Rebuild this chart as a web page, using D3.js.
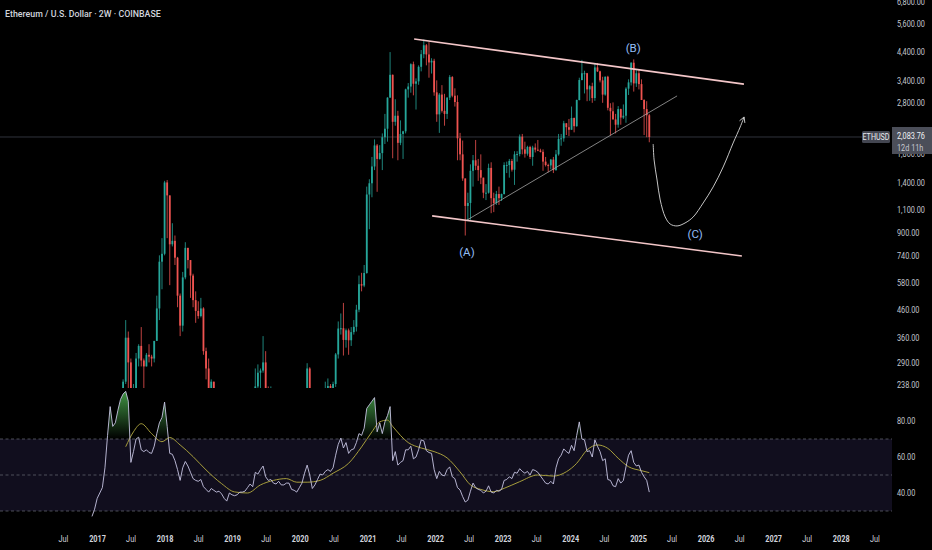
<!DOCTYPE html>
<html>
<head>
<meta charset="utf-8">
<script src="https://cdn.jsdelivr.net/npm/d3@7"></script>
<style>
  html, body { margin: 0; background: #000; }
  svg { display: block; }
  text { font-family: Roboto, "Noto Sans", sans-serif; }
</style>
</head>
<body>
<svg id="chart" width="932" height="550"></svg>
<script>
// ---- data: ETH/USD, 2-week bars from Coinbase ----
const firstBar = '2016-12-05';   // Monday open of bar 0
const firstOpen = 8.1;           // every later bar opens at the previous close

const closes = [
  7.9, 8.2, 9.9, 10.6, 11.3, 13.1, 28.5, 42, 44,
  48, 90, 155, 245, 360, 290, 160, 196, 300, 335,
  295, 280, 310, 305, 300, 350, 465, 700, 750, 1400,
  1250, 815, 840, 725, 520, 400, 610, 790, 710, 620,
  500, 455, 435, 465, 320, 275, 196, 245, 225, 205,
  210, 175, 115, 85, 135, 118, 115, 120, 137, 135,
  137, 178, 171, 162, 235, 265, 270, 290, 230, 205,
  215, 190, 180, 215, 175, 173, 183, 183, 150, 142,
  128, 146, 161, 223, 275, 200, 123, 143, 172, 210,
  207, 231, 236, 226, 240, 311, 390, 391, 353, 384,
  352, 378, 396, 460, 575, 568, 634, 1260, 1390, 1610,
  1935, 1720, 1810, 2080, 2240, 2940, 3590, 2380, 2510, 1980,
  2140, 2190, 3160, 3240, 3940, 3320, 3390, 3850, 4300, 4650,
  4290, 4000, 4060, 3080, 2540, 3020, 2620, 2550, 2940, 3520,
  2990, 2830, 2060, 1790, 1450, 1140, 1170, 1550, 1700, 1620,
  1560, 1460, 1280, 1280, 1590, 1220, 1170, 1265, 1220, 1265,
  1630, 1630, 1690, 1565, 1790, 1795, 2090, 1870, 1800, 1910,
  1750, 1900, 1865, 1850, 1830, 1680, 1630, 1625, 1710, 1560,
  1790, 2050, 2060, 2350, 2270, 2220, 2460, 2290, 2880, 3430,
  3640, 3640, 3160, 3250, 2930, 3830, 3700, 3420, 3020, 3530,
  2690, 2610, 2430, 2320, 2660, 2470, 2510, 3180, 3360, 3990,
  3330, 3640, 3310, 2880, 2660, 2520, 2083.76
];
const highs = [
  8.5, 8.5, 11.5, 11.2, 11.6, 13.5, 29.5, 52, 53,
  50, 97, 160, 250, 420, 380, 300, 240, 315, 340,
  395, 300, 315, 340, 310, 350, 520, 740, 860, 1420,
  1430, 1250, 980, 880, 730, 530, 640, 830, 790, 710,
  630, 540, 495, 510, 470, 330, 300, 250, 245, 230,
  220, 225, 177, 120, 160, 160, 130, 125, 165, 140,
  142, 185, 185, 175, 275, 285, 275, 365, 320, 235,
  235, 215, 190, 225, 215, 195, 195, 195, 185, 152,
  145, 148, 175, 230, 288, 278, 205, 150, 175, 227,
  215, 245, 252, 240, 245, 315, 415, 445, 488, 390,
  390, 395, 420, 480, 620, 635, 680, 1350, 1440, 1750,
  2040, 1960, 1940, 2150, 2550, 2950, 4380, 3600, 2900, 2620,
  2410, 2200, 3180, 3340, 3970, 4030, 3480, 3900, 4460, 4890,
  4700, 4780, 4150, 4130, 3420, 3060, 3280, 3040, 2950, 3580,
  3550, 3190, 3000, 2160, 2020, 1450, 1280, 1640, 1780, 2030,
  1720, 1790, 1460, 1380, 1650, 1670, 1280, 1300, 1350, 1270,
  1670, 1680, 1720, 1720, 1840, 1840, 2130, 2140, 2000, 1930,
  1930, 1930, 1970, 2030, 1880, 1870, 1750, 1650, 1720, 1750,
  1860, 2140, 2140, 2400, 2350, 2440, 2720, 2470, 2890, 3500,
  4090, 3720, 3650, 3280, 3350, 3980, 3980, 3720, 3530, 3540,
  3560, 2800, 2820, 2550, 2730, 2670, 2770, 3220, 3450, 4010,
  4110, 3740, 3750, 3450, 2900, 2850, 2550
];
const lows = [
  6.0, 7.1, 8.0, 9.5, 10.3, 11.2, 13.0, 27, 41,
  42, 47, 83, 150, 240, 230, 130, 150, 195, 280,
  280, 195, 280, 290, 280, 290, 350, 420, 550, 740,
  860, 570, 800, 680, 470, 365, 380, 600, 660, 510,
  470, 410, 425, 430, 310, 250, 195, 168, 210, 190,
  193, 170, 100, 82, 84, 115, 112, 100, 118, 125,
  130, 130, 155, 150, 160, 225, 225, 265, 225, 195,
  205, 175, 165, 175, 155, 168, 160, 180, 138, 140,
  117, 126, 143, 160, 220, 200, 90, 120, 140, 170,
  180, 195, 225, 220, 222, 234, 300, 370, 308, 330,
  310, 335, 370, 380, 450, 540, 560, 630, 930, 1230,
  1560, 1290, 1710, 1560, 1960, 2000, 2940, 1730, 2300, 1700,
  1940, 1720, 2150, 2940, 3070, 3000, 2650, 3290, 3700, 4150,
  3900, 3500, 3630, 2990, 2380, 2160, 2580, 2300, 2440, 2880,
  2950, 2720, 1700, 1700, 1420, 880, 1000, 1010, 1350, 1560,
  1420, 1380, 1220, 1200, 1270, 1070, 1080, 1150, 1150, 1190,
  1260, 1520, 1460, 1540, 1370, 1680, 1760, 1790, 1740, 1770,
  1720, 1620, 1820, 1840, 1820, 1550, 1610, 1530, 1570, 1520,
  1550, 1770, 1930, 2000, 2120, 2100, 2220, 2170, 2280, 2870,
  3420, 3050, 2850, 2860, 2810, 2860, 3680, 3360, 2810, 2990,
  2630, 2110, 2430, 2150, 2260, 2320, 2440, 2360, 3010, 3270,
  3100, 3230, 3160, 2880, 2120, 2080, 1990
];

// RSI(14) per bar, and its moving average as [bar index, value] read points
const rsi = [
  27, 31, 37, 40, 43, 54, 72, 88, 77, 79,
  86, 92, 95, 96.5, 91, 57, 63, 70, 71, 64,
  63, 64, 62.5, 62, 66, 73, 79, 82, 90.5, 77,
  62, 61.5, 58, 53, 47, 54, 57.5, 55, 51.5, 48,
  47, 46.5, 47.5, 43.5, 42, 40.5, 42.5, 41.5, 40.5, 41,
  39.5, 37, 35.5, 40, 39, 38.5, 39, 40.5, 40.5, 41,
  43, 45, 43.5, 51.5, 50.5, 53, 55, 49, 47, 47.5,
  45.5, 45, 46.5, 44.5, 44.5, 45.5, 45.5, 42, 41.5, 40.5,
  43, 45.5, 51, 55.5, 50, 42.5, 44.5, 47.5, 50.5, 50,
  52, 53, 52, 54, 61, 67, 70.5, 65, 68, 62,
  64, 64.5, 68, 73, 72, 76, 87, 89, 91, 93,
  74, 79, 73, 79.5, 83, 88, 58, 63, 55.5, 57,
  58, 64, 64, 66, 59, 60, 64, 69.5, 69, 63.5,
  62.5, 62, 53, 48, 52, 50, 49.5, 53, 54.5, 49,
  48, 43, 41.7, 38, 35, 36, 41, 45.5, 43, 42,
  41.5, 40, 41, 44, 40.5, 40, 41.5, 41, 42, 47,
  47.5, 49, 48, 51.5, 51, 53.5, 52, 51, 52, 50,
  53, 52.5, 51.5, 49.5, 47.5, 45.5, 45, 46.5, 45, 54,
  59, 61, 64.5, 63, 62, 66.5, 63.5, 72, 79.5, 70,
  69.5, 63, 63.5, 60, 69.5, 66, 63, 58, 59, 47.5,
  47, 44, 43.5, 48, 45.5, 47, 54.5, 61, 63.5, 57,
  55, 55.5, 51.5, 49, 47, 40.5
];
const rsiMa = [
  [13, 65.7], [16, 74], [19, 78.5], [23, 73], [27, 68.5], [30, 70.8], [34, 66.7],
  [39, 60.2], [44, 52.8], [50, 45.2], [55, 40.6], [60, 40], [65, 44.5], [70, 47],
  [75, 48], [79, 46], [83, 46], [88, 47], [93, 51], [99, 56.5], [104, 65.6],
  [108, 74], [111, 79.5], [114, 80.5], [116, 77], [122, 68], [127, 65], [132, 63],
  [137, 59.5], [142, 51.7], [146, 44.5], [150, 42], [155, 40.7], [159, 42.6],
  [165, 46.3], [172, 50], [178, 49.4], [183, 51.8], [187, 56.5], [191, 63.9],
  [195, 66.7], [199, 64.8], [203, 59.3], [207, 54.6], [212, 52.4], [215, 51.3]
];

const priceTicks = [6800, 5600, 4400, 3400, 2800, 2200, 1800, 1400, 1100, 900, 740, 580, 460, 360, 290, 238];
const rsiTicks = [80, 60, 40];
const rsiLevels = [70, 50, 30];
const lastPrice = 2083.76;
const countdown = '12d 11h';
const title = 'Ethereum / U.S. Dollar · 2W · COINBASE';

// drawings on the chart: [date, price]
const upperChannel = [['2021-09-10', 4910], ['2026-07-27', 3310]];
const lowerChannel = [['2021-12-16', 1045], ['2026-07-16', 736]];
const supportLine = [['2022-06-23', 1008], ['2025-07-31', 2985]];
const projection = [
  ['2025-03-24', 1960], ['2025-03-29', 1704], ['2025-04-14', 1430], ['2025-05-01', 1201],
  ['2025-05-28', 1035], ['2025-06-24', 973], ['2025-07-31', 957], ['2025-09-12', 982],
  ['2025-10-26', 1035], ['2025-12-19', 1170], ['2026-02-11', 1346], ['2026-04-06', 1603],
  ['2026-05-30', 1978], ['2026-07-07', 2275], ['2026-07-28', 2483]
];
const waveLabels = [
  { text: '(A)', date: '2022-06-22', price: 762 },
  { text: '(B)', date: '2024-12-06', price: 4538 },
  { text: '(C)', date: '2025-11-06', price: 892 }
];

// ---- layout ----
const plotRight = 892;      // price scale starts here
const priceBottom = 388;
const squish = 0.85;        // axis font on the reference is narrow
const up = '#26a69a', down = '#ef5350';

const parse = d3.utcParse('%Y-%m-%d');
const t0 = parse(firstBar);
const bars = closes.map((c, i) => ({
  date: d3.utcDay.offset(t0, 14 * i),
  o: i ? closes[i - 1] : firstOpen, h: highs[i], l: lows[i], c
}));

const x = d3.scaleUtc().domain([parse('2017-01-01'), parse('2025-01-01')]).range([97, 638]);
const yP = d3.scaleLog().domain([238, 6800]).range([385, 1.8]);
const yR = d3.scaleLinear().domain([30, 70]).range([511, 439]);

const svg = d3.select('#chart');
svg.append('rect').attr('width', 932).attr('height', 550).attr('fill', '#000');

const defs = svg.append('defs');
defs.append('clipPath').attr('id', 'pricePane')
  .append('rect').attr('width', plotRight).attr('height', priceBottom);
defs.append('clipPath').attr('id', 'obClip')
  .append('rect').attr('y', 380).attr('width', plotRight).attr('height', yR(70) - 380);
defs.append('clipPath').attr('id', 'osClip')
  .append('rect').attr('y', yR(30)).attr('width', plotRight).attr('height', 40);

const ob = defs.append('linearGradient').attr('id', 'obGrad')
  .attr('gradientUnits', 'userSpaceOnUse').attr('x1', 0).attr('x2', 0)
  .attr('y1', yR(100)).attr('y2', yR(70));
ob.append('stop').attr('offset', 0).attr('stop-color', '#4caf50').attr('stop-opacity', 0.95);
ob.append('stop').attr('offset', 1).attr('stop-color', '#4caf50').attr('stop-opacity', 0);
const os = defs.append('linearGradient').attr('id', 'osGrad')
  .attr('gradientUnits', 'userSpaceOnUse').attr('x1', 0).attr('x2', 0)
  .attr('y1', yR(30)).attr('y2', yR(0));
os.append('stop').attr('offset', 0).attr('stop-color', '#f44336').attr('stop-opacity', 0);
os.append('stop').attr('offset', 1).attr('stop-color', '#f44336').attr('stop-opacity', 0.95);

// ---- price pane ----
const pane = svg.append('g').attr('clip-path', 'url(#pricePane)');

pane.append('line')
  .attr('x1', 0).attr('x2', 862)
  .attr('y1', yP(lastPrice)).attr('y2', yP(lastPrice))
  .attr('stroke', '#30333c').attr('stroke-width', 1);

const candle = pane.append('g').selectAll('g').data(bars).join('g')
  .attr('transform', d => `translate(${x(d.date)},0)`)
  .attr('fill', d => d.c >= d.o ? up : down)
  .attr('stroke', d => d.c >= d.o ? up : down);
candle.append('line')
  .attr('y1', d => yP(d.h)).attr('y2', d => yP(d.l))
  .attr('stroke-width', 0.8);
candle.append('rect')
  .attr('x', -0.9).attr('width', 1.8)
  .attr('y', d => yP(Math.max(d.o, d.c)))
  .attr('height', d => Math.max(1, yP(Math.min(d.o, d.c)) - yP(Math.max(d.o, d.c))))
  .attr('stroke', 'none');

const pt = d => [x(parse(d[0])), yP(d[1])];
const seg = d3.line().x(d => pt(d)[0]).y(d => pt(d)[1]);

pane.append('path').attr('d', seg(supportLine))
  .attr('fill', 'none').attr('stroke', '#a3a3a3').attr('stroke-width', 0.8);
[upperChannel, lowerChannel].forEach(ch => {
  pane.append('path').attr('d', seg(ch))
    .attr('fill', 'none').attr('stroke', '#f3c6c8').attr('stroke-width', 1.6);
});

pane.append('path').attr('d', seg.curve(d3.curveCatmullRom)(projection))
  .attr('fill', 'none').attr('stroke', '#c4c4c4').attr('stroke-width', 1);
// open arrow head at the end of the projected path
{
  const [ax, ay] = pt(projection[projection.length - 1]);
  const [bx, by] = pt(projection[projection.length - 2]);
  const ang = Math.atan2(ay - by, ax - bx);
  const head = [-0.5, 0.5].map(a => [ax - 6 * Math.cos(ang + a), ay - 6 * Math.sin(ang + a)]);
  pane.append('path')
    .attr('d', `M${head[0]}L${ax},${ay}L${head[1]}`)
    .attr('fill', 'none').attr('stroke', '#c4c4c4').attr('stroke-width', 1);
}

pane.selectAll('text.wave').data(waveLabels).join('text')
  .attr('class', 'wave')
  .attr('x', d => x(parse(d.date))).attr('y', d => yP(d.price))
  .attr('text-anchor', 'middle').attr('dominant-baseline', 'central')
  .attr('fill', '#93bdf4').attr('font-size', 11.5)
  .text(d => d.text);

svg.append('text')
  .attr('transform', `translate(5,16.5) scale(0.9,1)`)
  .attr('fill', '#d1d4dc').attr('font-size', 9.8).attr('font-weight', 500)
  .text(title);

// ---- RSI pane ----
const rsiPts = rsi.map((v, i) => ({ date: bars[i].date, v }));
const rsiG = svg.append('g');

rsiG.append('rect')
  .attr('x', 0).attr('width', plotRight)
  .attr('y', yR(70)).attr('height', yR(30) - yR(70))
  .attr('fill', '#110e1e');
rsiG.selectAll('line.lvl').data(rsiLevels).join('line')
  .attr('class', 'lvl')
  .attr('x1', 0).attr('x2', plotRight)
  .attr('y1', d => yR(d)).attr('y2', d => yR(d))
  .attr('stroke', '#5d606b').attr('stroke-width', 0.8).attr('stroke-dasharray', '3,2.5');

const band = lvl => d3.area().x(d => x(d.date)).y0(yR(lvl)).y1(d => yR(d.v));
rsiG.append('path').attr('d', band(70)(rsiPts))
  .attr('fill', 'url(#obGrad)').attr('clip-path', 'url(#obClip)');
rsiG.append('path').attr('d', band(30)(rsiPts))
  .attr('fill', 'url(#osGrad)').attr('clip-path', 'url(#osClip)');

rsiG.append('path')
  .attr('d', d3.line().x(d => x(bars[d[0]].date)).y(d => yR(d[1])).curve(d3.curveMonotoneX)(rsiMa))
  .attr('fill', 'none').attr('stroke', '#a69d3c').attr('stroke-width', 1);
rsiG.append('path')
  .attr('d', d3.line().x(d => x(d.date)).y(d => yR(d.v))(rsiPts))
  .attr('fill', 'none').attr('stroke', '#c6c4e2').attr('stroke-width', 0.9);

// ---- axes ----
const fmt = d3.format(',.2f');
const styleAxis = g => {
  g.select('.domain').remove();
  g.selectAll('.tick line').remove();
  g.selectAll('text')
    .attr('fill', '#c3c6ce').attr('font-size', 8.6)
    .attr('font-family', 'Roboto, "Noto Sans", sans-serif');
};

svg.append('g').attr('transform', `translate(${plotRight},0)`)
  .call(d3.axisRight(yP).tickValues(priceTicks).tickFormat(fmt).tickSize(0).tickPadding(5 / squish))
  .call(styleAxis)
  .selectAll('text').attr('transform', `scale(${squish},1)`);

svg.append('g').attr('transform', `translate(${plotRight},0)`)
  .call(d3.axisRight(yR).tickValues(rsiTicks).tickFormat(fmt).tickSize(0).tickPadding(5 / squish))
  .call(styleAxis)
  .selectAll('text').attr('transform', `scale(${squish},1)`);

const timeTicks = d3.utcMonth.every(6).range(parse('2016-07-01'), parse('2028-07-02'));
svg.append('g').attr('transform', 'translate(0,535)')
  .call(d3.axisBottom(x).tickValues(timeTicks).tickSize(0).tickPadding(0.5)
    .tickFormat(d => d.getUTCMonth() === 0 ? d.getUTCFullYear() : 'Jul'))
  .call(styleAxis)
  .selectAll('text')
  .attr('transform', `scale(${squish},1)`)
  .attr('font-weight', d => d.getUTCMonth() === 0 ? 700 : 400)
  .attr('fill', '#d1d4dc');

// ---- last price tags ----
const yl = yP(lastPrice);
svg.append('rect').attr('x', 862).attr('y', yl - 6).attr('width', 28).attr('height', 12)
  .attr('rx', 1.5).attr('fill', '#434651');
svg.append('text').attr('transform', `translate(876,${yl}) scale(${squish},1)`)
  .attr('text-anchor', 'middle').attr('dominant-baseline', 'central')
  .attr('fill', '#e8e9ed').attr('font-size', 8.4).text('ETHUSD');

svg.append('rect').attr('x', plotRight).attr('y', yl - 10).attr('width', 40).attr('height', 27)
  .attr('fill', '#4b4e59');
svg.append('text').attr('transform', `translate(897,${yl - 1}) scale(${squish},1)`)
  .attr('dominant-baseline', 'central')
  .attr('fill', '#f0f1f4').attr('font-size', 8.6).text(fmt(lastPrice));
svg.append('text').attr('transform', `translate(897,${yl + 11}) scale(${squish},1)`)
  .attr('dominant-baseline', 'central')
  .attr('fill', '#c7c9d0').attr('font-size', 8.6).text(countdown);
</script>
</body>
</html>
